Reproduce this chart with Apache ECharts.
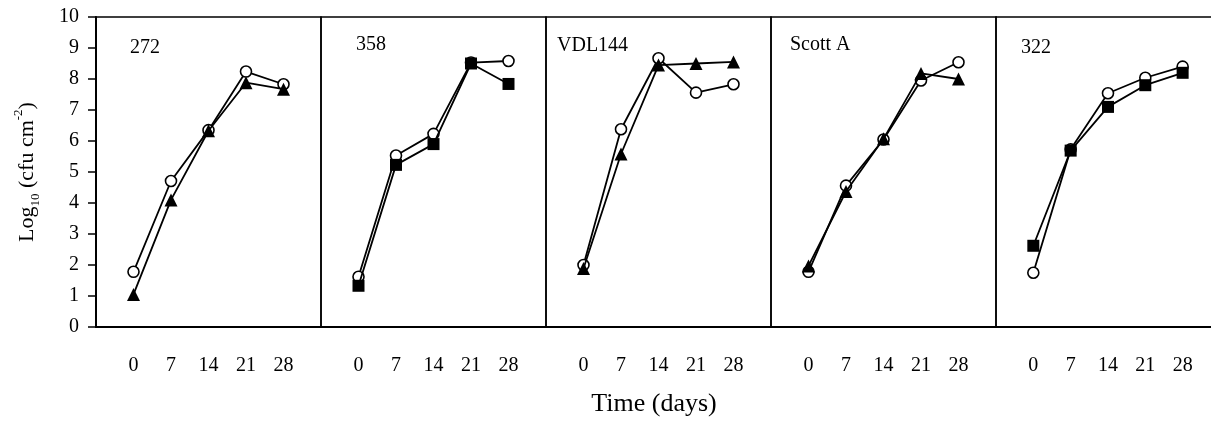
<!DOCTYPE html>
<html>
<head>
<meta charset="utf-8">
<script src="https://cdn.jsdelivr.net/npm/echarts@6/dist/echarts.min.js"></script>
<style>
  html, body { margin: 0; padding: 0; background: #fff; }
  #main { width: 1211px; height: 421px; }
</style>
</head>
<body>
<div id="main"></div>
<script>
    var days = [0, 7, 14, 21, 28];
    var yTicks = [0, 1, 2, 3, 4, 5, 6, 7, 8, 9, 10];
    var strains = ['272', '358', 'VDL144', 'Scott A', '322'];

    // open circles in every panel
    var circle272 = [1.78, 4.71, 6.35, 8.24, 7.83];
    var circle358 = [1.62, 5.53, 6.23, 8.53, 8.58];
    var circleVDL144 = [2.0, 6.38, 8.67, 7.56, 7.83];
    var circleScottA = [1.78, 4.56, 6.05, 7.95, 8.54];
    var circle322 = [1.75, 5.73, 7.54, 8.04, 8.40];
    // filled marks: triangles or squares
    var filled272 = [1.05, 4.10, 6.33, 7.88, 7.67];
    var filled358 = [1.33, 5.23, 5.90, 8.50, 7.84];
    var filledVDL144 = [1.89, 5.58, 8.45, 8.50, 8.55];
    var filledScottA = [1.97, 4.37, 6.07, 8.18, 8.00];
    var filled322 = [2.62, 5.69, 7.10, 7.80, 8.20];
    var filledShape = ['triangle', 'rect', 'triangle', 'triangle', 'rect'];

    var circles = [circle272, circle358, circleVDL144, circleScottA, circle322];
    var filleds = [filled272, filled358, filledVDL144, filledScottA, filled322];

    /*标签位置（面板名称）*/
    var labelPos = [[130, 48], [356, 45], [557, 46], [790, 45], [1021, 48]];

    var font = '"Liberation Serif", "Times New Roman", serif';
    var panelLeft = 96, panelW = 225, panelTop = 17, panelH = 310;
    var lastW = 216; // last panel is cut off by the picture's right edge

    function pairs(arr) {
        return days.map(function (d, k) { return [d, arr[k]]; });
    }

    var grids = [], xAxes = [], yAxes = [], series = [], graphics = [];
    for (var i = 0; i < 5; i++) {
        var last = i === 4;
        var w = last ? lastW : panelW;
        grids.push({
            left: panelLeft + i * panelW, top: panelTop, width: w, height: panelH,
            show: !last, borderColor: '#000', borderWidth: 1.5, backgroundColor: 'transparent'
        });
        xAxes.push({
            gridIndex: i, type: 'value', min: -7, max: -7 + 42 * w / panelW, interval: 7,
            axisLine: {show: true, onZero: false, lineStyle: {color: '#000', width: 2}},
            axisTick: {show: false},
            splitLine: {show: false},
            axisLabel: {
                margin: 29, color: '#000', fontFamily: font, fontSize: 20,
                showMaxLabel: false,
                formatter: function (v) { return (v < 0 || v > 28) ? '' : String(v); }
            }
        });
        var y = {
            gridIndex: i, type: 'value', min: yTicks[0], max: yTicks[yTicks.length - 1], interval: 1,
            splitLine: {show: false},
            axisLine: {show: i === 0 || last, onZero: false, lineStyle: {color: '#000', width: i === 0 ? 2 : 1.5}},
            axisTick: {show: i === 0, length: 8, lineStyle: {color: '#000', width: 1.5}},
            axisLabel: {show: i === 0, margin: 17, color: '#000', fontFamily: font, fontSize: 20}
        };
        if (i === 0) {
            y.name = '{t|Log}{s|10}{t| (cfu cm}{p|-2}{t|)}';
            y.nameLocation = 'middle';
            y.nameRotate = 90;
            y.nameGap = 54;
            y.nameTextStyle = {
                color: '#000', fontFamily: font,
                rich: {
                    t: {fontSize: 22, fontFamily: font, color: '#000', lineHeight: 30},
                    s: {fontSize: 13, fontFamily: font, color: '#000', verticalAlign: 'bottom', lineHeight: 26},
                    p: {fontSize: 13, fontFamily: font, color: '#000', verticalAlign: 'top', lineHeight: 14}
                }
            };
        }
        yAxes.push(y);

        series.push({
            type: 'line', xAxisIndex: i, yAxisIndex: i, data: pairs(circles[i]),
            symbol: 'circle', symbolSize: 11, z: 3,
            lineStyle: {color: '#000', width: 1.8},
            itemStyle: {color: '#fff', borderColor: '#000', borderWidth: 1.6}
        });
        series.push({
            type: 'line', xAxisIndex: i, yAxisIndex: i, data: pairs(filleds[i]),
            symbol: filledShape[i], symbolSize: filledShape[i] === 'rect' ? 12 : 13, z: 4,
            lineStyle: {color: '#000', width: 1.8},
            itemStyle: {color: '#000', borderColor: '#000', borderWidth: 0}
        });

        graphics.push({
            type: 'text', x: labelPos[i][0], y: labelPos[i][1],
            style: {text: strains[i], fill: '#000', font: '20px ' + font, textVerticalAlign: 'middle'}
        });
    }
    // top frame line of the cut-off last panel
    xAxes.push({
        gridIndex: 4, type: 'value', position: 'top', min: -7, max: -7 + 42 * lastW / panelW,
        axisLine: {show: true, onZero: false, lineStyle: {color: '#000', width: 1.5}},
        axisTick: {show: false}, axisLabel: {show: false}, splitLine: {show: false}
    });
    graphics.push({
        type: 'text', x: 654, y: 404,
        style: {text: 'Time (days)', fill: '#000', font: '26px ' + font, textAlign: 'center', textVerticalAlign: 'middle'}
    });

    var myChart = echarts.init(document.getElementById('main'));
    myChart.setOption({
        animation: false,
        backgroundColor: '#fff',
        grid: grids,
        xAxis: xAxes,
        yAxis: yAxes,
        series: series,
        graphic: graphics
    });
</script>
</body>
</html>
